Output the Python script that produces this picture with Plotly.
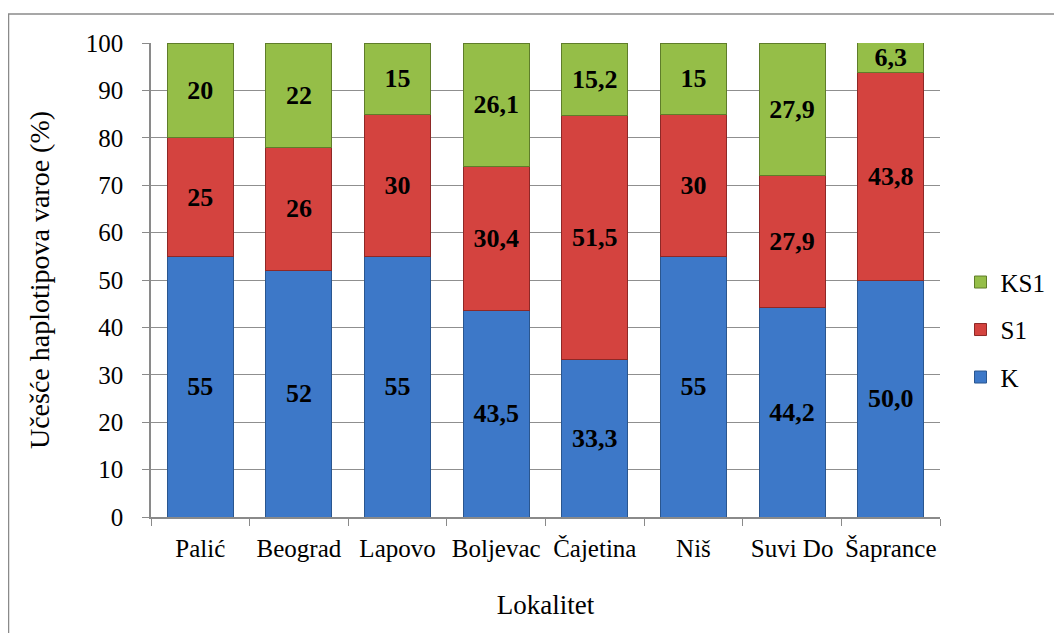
import plotly.graph_objects as go

categories = ["Palić", "Beograd", "Lapovo", "Boljevac", "Čajetina", "Niš", "Suvi Do", "Šaprance"]
k_vals = [55, 52, 55, 43.5, 33.3, 55, 44.2, 50.0]
s1_vals = [25, 26, 30, 30.4, 51.5, 30, 27.9, 43.8]
ks1_vals = [20, 22, 15, 26.1, 15.2, 15, 27.9, 6.3]
k_text = ["55", "52", "55", "43,5", "33,3", "55", "44,2", "50,0"]
s1_text = ["25", "26", "30", "30,4", "51,5", "30", "27,9", "43,8"]
ks1_text = ["20", "22", "15", "26,1", "15,2", "15", "27,9", "6,3"]
y_ticks = [0, 10, 20, 30, 40, 50, 60, 70, 80, 90, 100]

FONT = "Liberation Serif"

series = [
    ("K", k_vals, k_text, "#3D78C8", "#2A568F", 3),
    ("S1", s1_vals, s1_text, "#D4433F", "#8E2826", 2),
    ("KS1", ks1_vals, ks1_text, "#95BE48", "#5F7D2A", 1),
]

fig = go.Figure()
for name, vals, txt, col, edge, rank in series:
    fig.add_trace(go.Bar(
        x=categories, y=vals, name=name, text=txt,
        textposition="inside", insidetextanchor="middle", textangle=0,
        constraintext="none",
        textfont=dict(family=FONT, size=26, color="black", weight="bold"),
        marker=dict(color=col, line=dict(color=edge, width=1)),
        legendgroup=name, legendrank=rank,
        hoverinfo="skip",
    ))

fig.update_layout(
    barmode="stack",
    bargap=0.33,
    width=1054, height=625,
    paper_bgcolor="white", plot_bgcolor="white",
    margin=dict(l=143, r=122, t=35, b=116, autoexpand=False),
    font=dict(family=FONT, color="black"),
    showlegend=True,
    legend=dict(
        traceorder="grouped", tracegroupgap=12,
        x=1.026, y=0.395, xanchor="left", yanchor="middle",
        font=dict(family=FONT, size=25, color="black"),
        itemwidth=30,
    ),
    shapes=[dict(type="rect", xref="paper", yref="paper",
                 x0=-0.1806, y0=-0.27, x1=1.20, y1=1.0612,
                 line=dict(color="#8a8a8a", width=1.5), layer="below")],
)

fig.update_yaxes(
    range=[0, 100], tickvals=y_ticks,
    showgrid=True, gridcolor="#8f8f8f", gridwidth=1,
    showline=True, linecolor="#8a8a8a", linewidth=1.5,
    ticks="outside", ticklen=7, tickcolor="#8a8a8a",
    ticklabelstandoff=14,
    tickfont=dict(family=FONT, size=25, color="black"),
    title=dict(text="Učešće haplotipova varoe (%)", font=dict(family=FONT, size=28, color="black"), standoff=28),
    zeroline=False, automargin=False,
)
fig.update_xaxes(
    showline=True, linecolor="#8a8a8a", linewidth=1.5,
    ticks="outside", ticklen=7, tickcolor="#8a8a8a", tickson="boundaries",
    tickangle=0,
    ticklabelstandoff=8,
    tickfont=dict(family=FONT, size=25, color="black"),
    title=dict(text="Lokalitet", font=dict(family=FONT, size=27, color="black"), standoff=34),
    automargin=False,
)

fig.write_html("out.html")
